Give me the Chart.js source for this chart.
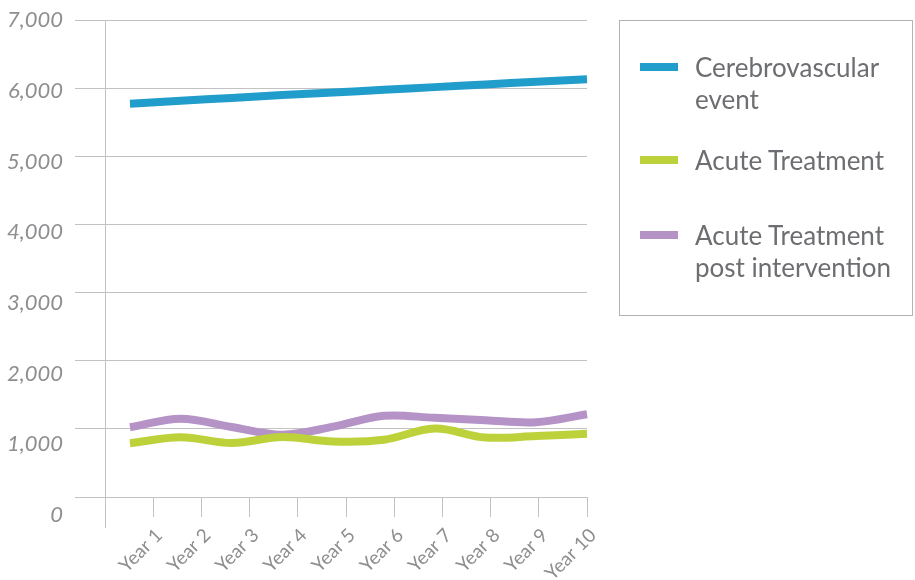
<!DOCTYPE html>
<html>
<head>
<meta charset="utf-8">
<script src="https://cdn.jsdelivr.net/npm/chart.js@4.4.1/dist/chart.umd.min.js"></script>
<style>
  html, body { margin: 0; padding: 0; background: #fff; }
  #wrap { position: relative; width: 915px; height: 580px; }
  #legend {
    position: absolute; left: 619px; top: 20px; width: 294px; height: 296px;
    border: 1px solid #b3b3b3; box-sizing: border-box;
    font-family: Lato, sans-serif; font-size: 26px; color: #6d6e71;
  }
  .item { position: absolute; left: 0; width: 100%; line-height: 32px; }
  .swatch { position: absolute; left: 20px; width: 38px; height: 8px; }
  .txt { position: absolute; left: 75px; width: 215px; }
</style>
</head>
<body>
<div id="wrap">
  <canvas id="chart" width="915" height="580"></canvas>
  <div id="legend"></div>
</div>
<script>
const years = ['Year 1', 'Year 2', 'Year 3', 'Year 4', 'Year 5', 'Year 6', 'Year 7', 'Year 8', 'Year 9', 'Year 10'];
const cerebrovascular = [5772, 5815, 5857, 5900, 5935, 5975, 6015, 6055, 6093, 6130];
const acuteTreatment = [788, 876, 792, 880, 815, 840, 1005, 873, 895, 929];
const acutePost = [1023, 1150, 1027, 914, 1032, 1192, 1162, 1126, 1098, 1215];
const yTicks = [0, 1000, 2000, 3000, 4000, 5000, 6000, 7000];

const seriesNames = ['Cerebrovascular event', 'Acute Treatment', 'Acute Treatment post intervention'];
const seriesColors = ['#209dcb', '#bdd13b', '#b593c7'];
const legendTops = [30, 123, 198];

const gridColor = '#c2c2c2';
const textGray = '#8d8e90';

function points(values) {
  return values.map((v, i) => ({ x: i + 1, y: v }));
}

function fixTicks(axis) {
  axis.ticks = yTicks.map(v => ({ value: v }));
}

const ctx = document.getElementById('chart');
const chart = new Chart(ctx, {
  type: 'line',
  data: {
    datasets: [cerebrovascular, acuteTreatment, acutePost].map((vals, i) => ({
      label: seriesNames[i],
      data: points(vals),
      borderColor: seriesColors[i],
      backgroundColor: seriesColors[i],
      borderWidth: 8,
      pointRadius: 0,
      tension: 0.35,
      clip: false
    }))
  },
  options: {
    responsive: false,
    animation: false,
    devicePixelRatio: 1,
    layout: { padding: { top: 20, right: 328, bottom: 53, left: 0 } },
    plugins: { legend: { display: false }, tooltip: { enabled: false } },
    scales: {
      x: { type: 'linear', display: false, min: 0.508, max: 10 },
      xl: {
        type: 'linear',
        position: { y: 0 },
        min: 0, max: 10,
        grid: { drawOnChartArea: false, tickLength: 19, color: gridColor },
        border: { display: true, color: gridColor },
        ticks: {
          stepSize: 1, autoSkip: false,
          minRotation: 45, maxRotation: 45,
          padding: 8,
          labelOffset: 6,
          color: textGray,
          font: { family: 'Lato', size: 19 },
          callback: v => v >= 1 ? years[v - 1] : ''
        }
      },
      y: {
        position: 'left',
        weight: 0,
        min: -440, max: 7000,
        afterBuildTicks: fixTicks,
        afterFit: s => { s.width = 42; },
        grid: { color: gridColor, tickLength: 30 },
        border: { display: true, color: gridColor },
        ticks: { display: false }
      },
      yl: {
        position: 'left',
        weight: 1,
        min: -170, max: 7000,
        afterBuildTicks: fixTicks,
        afterFit: s => { s.width = 63; },
        grid: { display: false, drawTicks: false },
        border: { display: false },
        ticks: {
          padding: 0,
          color: textGray,
          font: { family: 'Lato', size: 22, style: 'italic' },
          callback: v => v.toLocaleString('en-US')
        }
      }
    }
  }
});

const legend = document.getElementById('legend');
chart.data.datasets.forEach((ds, i) => {
  const item = document.createElement('div');
  item.className = 'item';
  item.style.top = legendTops[i] + 'px';
  const sw = document.createElement('span');
  sw.className = 'swatch';
  sw.style.background = ds.borderColor;
  sw.style.top = '12px';
  const txt = document.createElement('span');
  txt.className = 'txt';
  txt.textContent = ds.label;
  item.appendChild(sw);
  item.appendChild(txt);
  legend.appendChild(item);
});
</script>
</body>
</html>
